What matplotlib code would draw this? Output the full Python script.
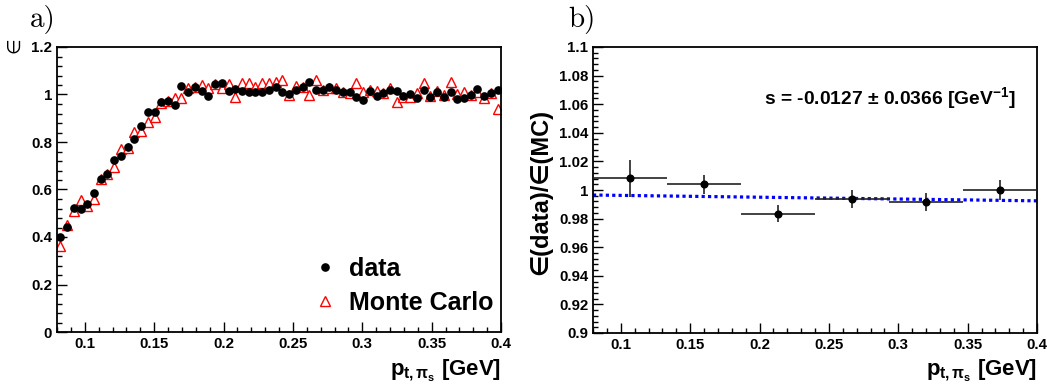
import numpy as np
import matplotlib
matplotlib.use("Agg")
import matplotlib.pyplot as plt
from matplotlib.ticker import MultipleLocator, FuncFormatter
from matplotlib.lines import Line2D

plt.rcParams['font.family'] = ['Liberation Sans', 'DejaVu Sans']
plt.rcParams['font.weight'] = 'bold'
plt.rcParams['mathtext.fontset'] = 'custom'
plt.rcParams['mathtext.rm'] = 'Liberation Sans:bold'
plt.rcParams['mathtext.it'] = 'Liberation Sans:bold'
plt.rcParams['mathtext.bf'] = 'Liberation Sans:bold'
plt.rcParams['mathtext.sf'] = 'Liberation Sans:bold'

# ---------------- data ----------------
# panel a): efficiency vs p_t in fine bins
x_min, x_max, n_bins = 0.08, 0.40, 66
data_eff = [0.401, 0.441, 0.521, 0.517, 0.539, 0.584, 0.643, 0.665, 0.724, 0.741,
            0.780, 0.814, 0.869, 0.925, 0.928, 0.970, 0.973, 0.957, 1.036, 1.009,
            1.030, 1.015, 0.995, 1.044, 1.048, 1.015, 1.023, 1.015, 1.009, 1.012,
            1.009, 1.019, 1.030, 1.009, 1.001, 1.019, 1.033, 1.051, 1.021, 1.019,
            1.033, 1.021, 1.012, 1.009, 0.991, 0.977, 1.016, 0.994, 1.005, 1.019,
            1.015, 0.994, 1.001, 0.987, 1.021, 0.991, 1.009, 0.988, 1.012, 0.980,
            0.984, 0.998, 1.023, 0.995, 1.005, 1.021]
mc_eff = [0.362, 0.451, 0.509, 0.556, 0.532, 0.560, 0.644, 0.665, 0.693, 0.772,
          0.775, 0.843, 0.848, 0.886, 0.904, 0.963, 0.974, 0.984, 0.984, 1.026,
          1.030, 1.040, 1.029, 1.044, 1.026, 1.043, 0.988, 1.050, 1.050, 1.030,
          1.047, 1.047, 1.053, 1.061, 0.998, 1.036, 1.033, 0.998, 1.061, 1.019,
          1.026, 1.026, 1.012, 1.008, 1.050, 1.009, 1.019, 1.015, 1.005, 1.029,
          0.970, 0.988, 0.988, 1.008, 1.050, 0.994, 1.015, 0.998, 1.054, 1.001,
          1.012, 0.998, 1.012, 0.987, 1.005, 0.939]
data_err = 0.012
mc_err = 0.012

# panel b): ratio data/MC in coarse bins
ratio_edges = [0.08, 0.1333, 0.1867, 0.24, 0.2933, 0.3467, 0.40]
ratio_vals = [1.0082, 1.0040, 0.9834, 0.9935, 0.9918, 1.0000]
ratio_errs = [0.0128, 0.0068, 0.0058, 0.0062, 0.0064, 0.0068]
fit_slope = -0.0127
fit_intercept = 0.9975
fit_text = r"s = -0.0127 $\pm$ 0.0366 [GeV$^{\mathbf{-1}}$]"

legend_labels = ["data", "Monte Carlo"]
xlabel = r"$p_{t,\pi_{s}}$ [GeV]"

# ---------------- figure ----------------
W, H = 1047, 387
fig = plt.figure(figsize=(W / 100, H / 100), dpi=100)

def px_axes(l, t, r, b):
    return fig.add_axes([l / W, 1 - b / H, (r - l) / W, (b - t) / H])

axA = px_axes(57, 47, 501, 332)
axB = px_axes(593, 47, 1037, 333)

fmt = FuncFormatter(lambda v, p: ("%g" % round(v, 4)))

def style(ax):
    ax.tick_params(which='both', direction='in', top=False, right=False,
                   labelsize=10.8, pad=3.5)
    ax.tick_params(which='major', length=7, width=1)
    ax.tick_params(which='minor', length=3.5, width=1)
    for s in ax.spines.values():
        s.set_linewidth(1.3)
    ax.xaxis.set_major_locator(MultipleLocator(0.05))
    ax.xaxis.set_minor_locator(MultipleLocator(0.01))
    ax.xaxis.set_major_formatter(fmt)
    ax.yaxis.set_major_formatter(fmt)
    for lab in ax.get_xticklabels() + ax.get_yticklabels():
        lab.set_fontweight('bold')
    ax.set_xlim(x_min, x_max)

# ----- panel a -----
edges = np.linspace(x_min, x_max, n_bins + 1)
centers = 0.5 * (edges[:-1] + edges[1:])
axA.errorbar(centers, mc_eff, yerr=mc_err, fmt='^', ms=6.5, mfc='white', mec='red',
             mew=1.0, ecolor='red', elinewidth=1.0, capsize=0, zorder=2)
axA.errorbar(centers, data_eff, yerr=data_err, fmt='o', ms=5.2, mfc='black', mec='black',
             ecolor='black', elinewidth=1.0, capsize=0, zorder=3)
style(axA)
axA.set_ylim(0, 1.2)
axA.yaxis.set_major_locator(MultipleLocator(0.2))
axA.yaxis.set_minor_locator(MultipleLocator(0.04))
h_data = Line2D([], [], marker='o', ms=5.2, color='black', linestyle='none')
h_mc = Line2D([], [], marker='^', ms=6.5, mfc='white', mec='red', mew=1.0, linestyle='none')
leg = axA.legend([h_data, h_mc], legend_labels, loc='center left',
                 bbox_to_anchor=((290 - 57) / 444, (332 - 285.5) / 285),
                 frameon=False, handlelength=1.0, handletextpad=0.45,
                 labelspacing=0.4, prop={'weight': 'bold', 'size': 18})

axA.text(501, H - 375, xlabel, transform=None, fontsize=16, fontweight='bold',
         ha='right', va='baseline')
fig.text(14 / W, 1 - 45 / H, "∈", rotation=90, fontsize=13, fontweight='normal',
         ha='center', va='center', family='DejaVu Sans')
fig.text(30 / W, 1 - 20 / H, "a)", fontsize=21, family='cmr10', ha='left', va='center')

# ----- panel b -----
r_lo = np.array(ratio_edges[:-1])
r_hi = np.array(ratio_edges[1:])
r_c = 0.5 * (r_lo + r_hi)
axB.errorbar(r_c, ratio_vals, xerr=0.5 * (r_hi - r_lo), yerr=ratio_errs, fmt='o', ms=4.8,
             mfc='black', mec='black', ecolor='#222222', elinewidth=1.2, capsize=0,
             zorder=3)
fx = np.array([x_min, x_max])
axB.plot(fx, fit_intercept + fit_slope * fx, color='#0000ff', lw=2.3,
         linestyle=(0, (1, 1)), zorder=2)
style(axB)
axB.set_ylim(0.9, 1.1)
axB.yaxis.set_major_locator(MultipleLocator(0.02))
axB.yaxis.set_minor_locator(MultipleLocator(0.004))
axB.text(1016, H - 104, fit_text, transform=None, fontsize=13.9, fontweight='bold',
         ha='right', va='baseline')
axB.text(1037, H - 375, xlabel, transform=None, fontsize=16, fontweight='bold',
         ha='right', va='baseline')
fig.text(541 / W, 1 - 192 / H, "∈(data)/∈(MC)", rotation=90, fontsize=17,
         fontweight='bold', ha='center', va='center')
fig.text(568 / W, 1 - 20 / H, "b)", fontsize=21, family='cmr10', ha='left', va='center')

fig.savefig("out.png", dpi=100)
